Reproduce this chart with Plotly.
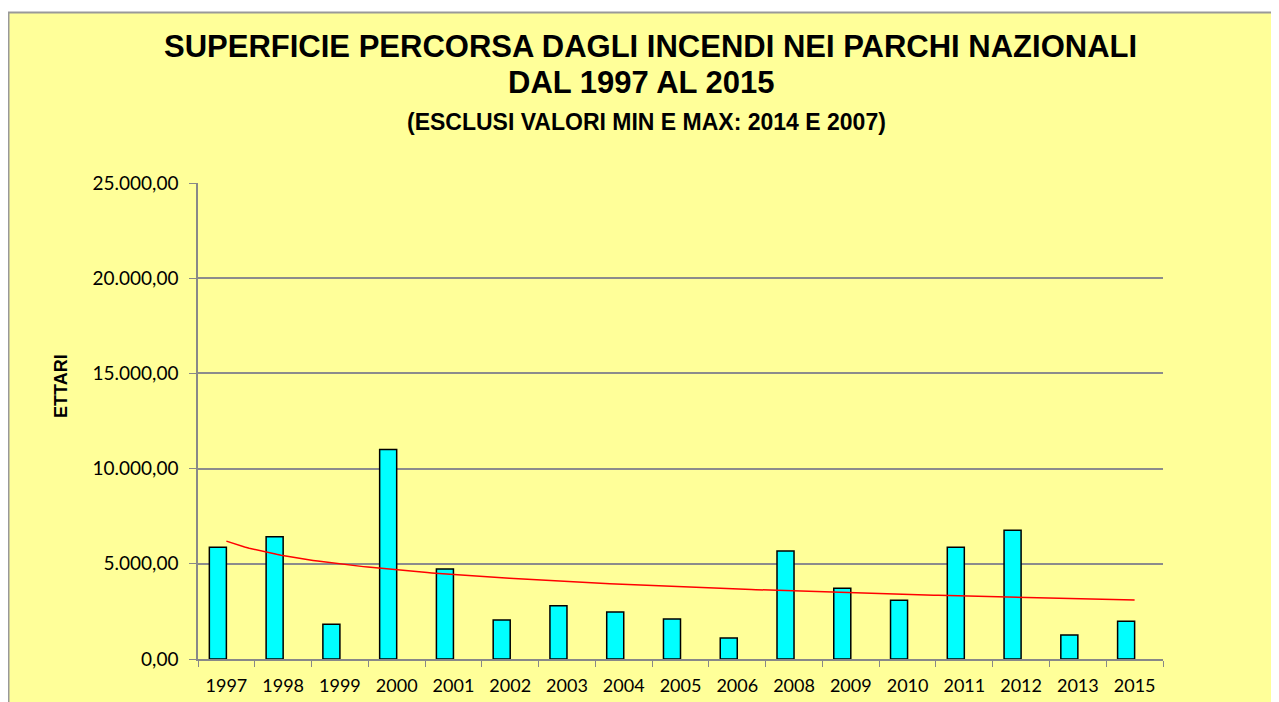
import numpy as np
import plotly.graph_objects as go

# dati
anni = ["1997", "1998", "1999", "2000", "2001", "2002", "2003", "2004", "2005",
        "2006", "2008", "2009", "2010", "2011", "2012", "2013", "2015"]
ettari = [5870, 6425, 1820, 11000, 4727, 2048, 2800, 2470, 2100,
          1100, 5670, 3711, 3082, 5866, 6759, 1260, 1980]
y_ticks = [0, 5000, 10000, 15000, 20000, 25000]

# linea di tendenza logaritmica (come in Excel)
n = np.arange(1, len(ettari) + 1)
a, b = np.polyfit(np.log(n), ettari, 1)
xt = np.linspace(1, len(ettari), 200)
yt = a * np.log(xt) + b

# la pagina ha un margine di 8px: le posizioni sotto sono in pixel dello schermo
OFF = 8
W, H = 1279, 702
L = 198 - OFF
T = 183 - OFF
R = W - (1163 - OFF)
B = H - (659 - OFF)
pw = W - L - R
ph = H - T - B


def px_x(p):
    return (p - OFF - L) / pw


def px_y(p):
    return (H - B - (p - OFF)) / ph


fig = go.Figure()

# le barre stanno a sinistra del centro categoria (come nel grafico Excel)
fig.add_trace(go.Bar(
    x=anni,
    y=ettari,
    width=0.3,
    offset=-0.3,
    marker=dict(color="#00FFFF", line=dict(color="black", width=1.5)),
    showlegend=False,
))

fig.add_trace(go.Scatter(
    x=xt - 1,
    y=yt,
    mode="lines",
    line=dict(color="#FF0000", width=1.5),
    xaxis="x2",
    showlegend=False,
))

fig.update_layout(
    width=W,
    height=H,
    margin=dict(l=L, r=R, t=T, b=B),
    paper_bgcolor="white",
    plot_bgcolor="#CCFFCC",
    separators=",.",
    font=dict(family="Lato", size=17, color="black"),
    xaxis=dict(
        type="category",
        range=[-0.5, len(anni) - 0.5],
        tickson="boundaries",
        ticks="outside",
        ticklen=6,
        tickcolor="#888888",
        ticklabelstandoff=10,
        showline=True,
        linecolor="#888888",
        linewidth=1.5,
        showgrid=False,
        tickfont=dict(family="Lato", size=18),
    ),
    xaxis2=dict(
        overlaying="x",
        range=[-0.5, len(anni) - 0.5],
        visible=False,
    ),
    yaxis=dict(
        range=[0, 25000],
        tickvals=y_ticks,
        tickformat=",.2f",
        ticks="outside",
        ticklen=7,
        tickcolor="#888888",
        ticklabelstandoff=7,
        showline=True,
        linecolor="#888888",
        linewidth=1.5,
        showgrid=True,
        gridcolor="#8C8C8C",
        gridwidth=1.5,
        zeroline=False,
        tickfont=dict(family="Lato", size=19),
    ),
    shapes=[dict(
        type="rect", xref="paper", yref="paper", layer="below",
        x0=px_x(8.5), x1=px_x(1300), y0=px_y(730), y1=px_y(12.5),
        fillcolor="#FFFF99", line=dict(color="#999999", width=2),
    )],
    annotations=[
        dict(text="<b>SUPERFICIE PERCORSA DAGLI INCENDI NEI PARCHI NAZIONALI</b>",
             xref="paper", yref="paper", x=px_x(650), y=px_y(47),
             xanchor="center", yanchor="middle", showarrow=False,
             font=dict(family="Liberation Sans", size=31, color="black")),
        dict(text="<b>DAL 1997 AL 2015</b>",
             xref="paper", yref="paper", x=px_x(641), y=px_y(82),
             xanchor="center", yanchor="middle", showarrow=False,
             font=dict(family="Liberation Sans", size=31, color="black")),
        dict(text="<b>(ESCLUSI VALORI MIN E MAX: 2014 E 2007)</b>",
             xref="paper", yref="paper", x=px_x(646), y=px_y(122),
             xanchor="center", yanchor="middle", showarrow=False,
             font=dict(family="Liberation Sans", size=23, color="black")),
        dict(text="<b>ETTARI</b>", textangle=-90,
             xref="paper", yref="paper", x=px_x(61), y=px_y(386),
             xanchor="center", yanchor="middle", showarrow=False,
             font=dict(family="Liberation Sans", size=18, color="black")),
    ],
)

fig.write_html("out.html")
